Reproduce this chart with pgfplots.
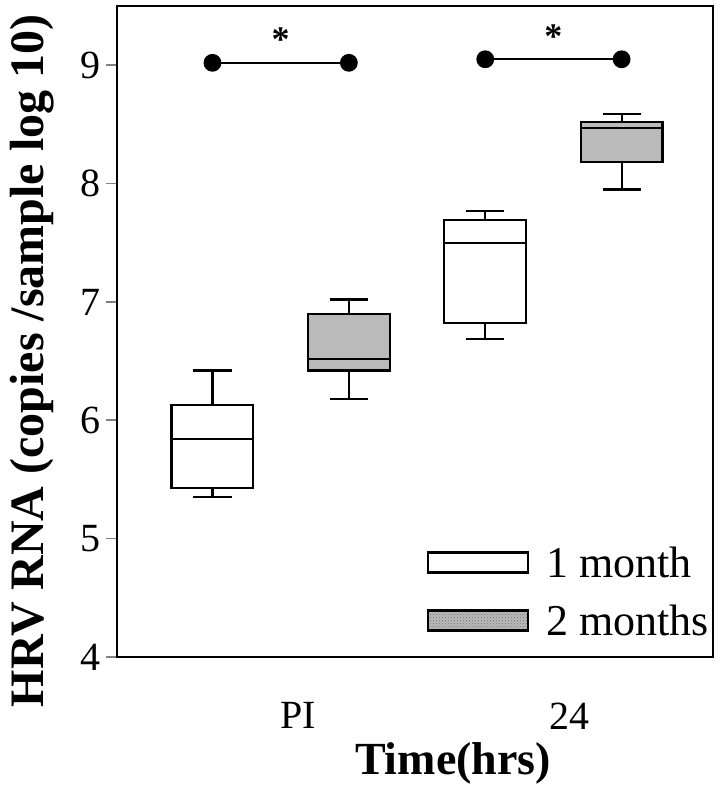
\documentclass[border=0pt]{standalone}
\usepackage{fontspec}
\setmainfont{Liberation Serif}
\usepackage{pgfplots}
\pgfplotsset{compat=1.18}
\usepgfplotslibrary{statistics}
\usetikzlibrary{patterns}
\definecolor{stip}{RGB}{186,186,186}
\tikzset{stipple/.style={fill=stip, postaction={pattern=crosshatch dots, pattern color=black!55}}}
\begin{document}
\begin{tikzpicture}
\useasboundingbox (-117pt,-130pt) rectangle (605pt,657pt);
\begin{axis}[
  at={(0pt,0pt)}, anchor=south west,
  scale only axis,
  width=596pt, height=651pt,
  xmin=0.3, xmax=4.67,
  ymin=4, ymax=9.5,
  boxplot/draw direction=y,
  /pgf/number format/assume math mode=true,
  axis line style={line width=2pt},
  xtick={1.63,3.62}, xticklabels={PI,24},
  xtick style={draw=none},
  ytick={4,5,6,7,8,9},
  ytick pos=left, tick align=outside,
  ytick style={line width=1.6pt},
  major tick length=11pt,
  tick label style={font=\fontsize{40}{48}\selectfont},
  yticklabel style={xshift=-2pt},
  xticklabel style={yshift=-31pt},
  xlabel={\textbf{Time(hrs)}},
  ylabel={\textbf{HRV RNA (copies /sample log 10)}},
  xlabel style={font=\fontsize{46}{54}\selectfont, at={(axis description cs:0.5,0)}, anchor=center, yshift=-106pt, xshift=38pt},
  ylabel style={font=\fontsize{48}{56}\selectfont, at={(axis description cs:0,0.455)}, anchor=center, rotate=0, yshift=85pt},
  legend style={at={(rel axis cs:1,0.025)}, anchor=south east, draw=none, fill=none,
    font=\fontsize{44}{52}\selectfont, row sep=22pt, inner sep=2pt},
  legend cell align=left,
  legend image code/.code={\draw[#1] (0pt,-10pt) rectangle (100pt,10pt); \path (115pt,0pt);},
]
\addplot+[draw=black, line width=2.2pt, fill=white, mark=none,
  boxplot prepared={draw position=1, lower whisker=5.35, lower quartile=5.43,
    median=5.84, upper quartile=6.13, upper whisker=6.42,
    box extend=0.6, whisker extend=0.28}] coordinates {};
\addplot+[draw=black, line width=2.2pt, stipple, mark=none,
  boxplot prepared={draw position=2, lower whisker=6.18, lower quartile=6.42,
    median=6.52, upper quartile=6.90, upper whisker=7.02,
    box extend=0.6, whisker extend=0.28}] coordinates {};
\addplot+[draw=black, line width=2.2pt, fill=white, mark=none,
  boxplot prepared={draw position=3, lower whisker=6.69, lower quartile=6.82,
    median=7.50, upper quartile=7.69, upper whisker=7.77,
    box extend=0.6, whisker extend=0.28}] coordinates {};
\addplot+[draw=black, line width=2.2pt, stipple, mark=none,
  boxplot prepared={draw position=4, lower whisker=7.95, lower quartile=8.18,
    median=8.47, upper quartile=8.52, upper whisker=8.59,
    box extend=0.6, whisker extend=0.28}] coordinates {};
\legend{1 month, 2 months}
\addplot[black, line width=1.8pt, mark=*, mark size=8pt, forget plot] coordinates {(1,9.02) (2,9.02)};
\addplot[black, line width=1.8pt, mark=*, mark size=8pt, forget plot] coordinates {(3,9.05) (4,9.05)};
\node[font=\fontsize{36}{40}\selectfont\bfseries] at (axis cs:1.5,9.22) {*};
\node[font=\fontsize{36}{40}\selectfont\bfseries] at (axis cs:3.5,9.24) {*};
\end{axis}
\end{tikzpicture}
\end{document}
